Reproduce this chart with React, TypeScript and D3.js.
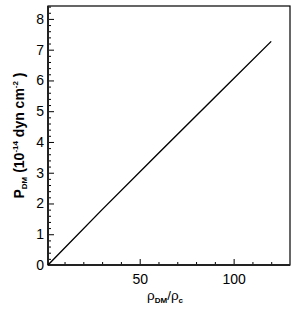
import React, { useEffect, useRef } from 'react';
import * as d3 from 'd3';

const rhoRatio = [1.2, 30, 60, 90, 120];
const pressure = [0.0, 1.8, 3.63, 5.45, 7.27];
const xMajorTicks = [50, 100];
const yMajorTicks = [0, 1, 2, 3, 4, 5, 6, 7, 8];

const App: React.FC = () => {
  const svgRef = useRef<SVGSVGElement>(null);

  useEffect(() => {
    if (!svgRef.current) return;
    const W = 299, H = 309;
    const margin = { top: 6, right: 9, bottom: 44, left: 48 };
    const width = W - margin.left - margin.right;
    const height = H - margin.top - margin.bottom;
    const font = 'Liberation Sans, Arial, sans-serif';

    d3.select(svgRef.current).selectAll('*').remove();
    const root = d3.select(svgRef.current).attr('width', W).attr('height', H);
    root.append('rect').attr('width', W).attr('height', H).attr('fill', '#fff');

    const svg = root.append('g').attr('transform', `translate(${margin.left},${margin.top})`);

    const x = d3.scaleLinear().domain([1.2, 130]).range([0, width]);
    const y = d3.scaleLinear().domain([0, 8.42]).range([height, 0]);

    const xMinor = d3.range(10, 130, 10).filter(v => !xMajorTicks.includes(v));
    const yMinor = d3.range(0.2, 8.41, 0.2).map(v => +v.toFixed(1)).filter(v => !yMajorTicks.includes(v));

    // bottom axis (ticks inward)
    const xAxis = svg.append('g').attr('transform', `translate(0,${height})`);
    xAxis.call(d3.axisBottom(x).tickValues(xMajorTicks).tickSize(-6).tickPadding(9).tickFormat(d3.format('d')));
    xAxis.append('g').call(d3.axisBottom(x).tickValues(xMinor).tickSize(-3).tickFormat(() => ''));
    xAxis.selectAll('.domain').remove();
    xAxis.selectAll('text').attr('fill', '#000').style('font-family', font).style('font-size', '14px');

    const yAxis = svg.append('g');
    yAxis.call(d3.axisLeft(y).tickValues(yMajorTicks).tickSize(-6).tickPadding(4).tickFormat(d3.format('d')));
    yAxis.append('g').call(d3.axisLeft(y).tickValues(yMinor).tickSize(-3).tickFormat(() => ''));
    yAxis.selectAll('.domain').remove();
    yAxis.selectAll('text').attr('fill', '#000').style('font-family', font).style('font-size', '14px');

    svg.selectAll('.tick line').attr('stroke', '#000').attr('stroke-width', 1);

    // frame
    svg.append('rect').attr('x', 0).attr('y', 0).attr('width', width).attr('height', height)
      .attr('fill', 'none').attr('stroke', '#000').attr('stroke-width', 1.2);
    svg.append('line').attr('x1', 0).attr('x2', width).attr('y1', height).attr('y2', height)
      .attr('stroke', '#222').attr('stroke-width', 2.2);
    svg.append('line').attr('x1', 0).attr('x2', 0).attr('y1', 0).attr('y2', height)
      .attr('stroke', '#222').attr('stroke-width', 2);

    const data = rhoRatio.map((r, i) => ({ r, p: pressure[i] }));
    const line = d3.line<{ r: number; p: number }>().x(d => x(d.r)).y(d => y(d.p));
    svg.append('path').datum(data).attr('fill', 'none').attr('stroke', '#000')
      .attr('stroke-width', 1.4).attr('d', line);

    // y label
    const yl = root.append('text')
      .attr('transform', `translate(24,${margin.top + height / 2}) rotate(-90)`)
      .attr('text-anchor', 'middle')
      .style('font-family', font).style('font-weight', 'bold').style('font-size', '14px');
    yl.append('tspan').text('P');
    yl.append('tspan').attr('dy', 3).style('font-size', '8px').text('DM');
    yl.append('tspan').attr('dy', -3).text(' (10');
    yl.append('tspan').attr('dy', -6).style('font-size', '8px').text('-14');
    yl.append('tspan').attr('dy', 6).text(' dyn cm');
    yl.append('tspan').attr('dy', -6).style('font-size', '8px').text('-2');
    yl.append('tspan').attr('dy', 6).text(' )');

    // x label
    const xl = root.append('text')
      .attr('x', margin.left + width / 2 - 4).attr('y', 300)
      .attr('text-anchor', 'middle')
      .style('font-family', font).style('font-size', '13.5px');
    xl.append('tspan').text('ρ');
    xl.append('tspan').attr('dy', 3).style('font-size', '8px').style('font-weight', 'bold').text('DM');
    xl.append('tspan').attr('dy', -3).text('/ρ');
    xl.append('tspan').attr('dy', 3).style('font-size', '8px').style('font-weight', 'bold').text('c');
  }, []);

  return <svg ref={svgRef} style={{ position: 'absolute', left: 0, top: 0 }}></svg>;
};

export default App;
